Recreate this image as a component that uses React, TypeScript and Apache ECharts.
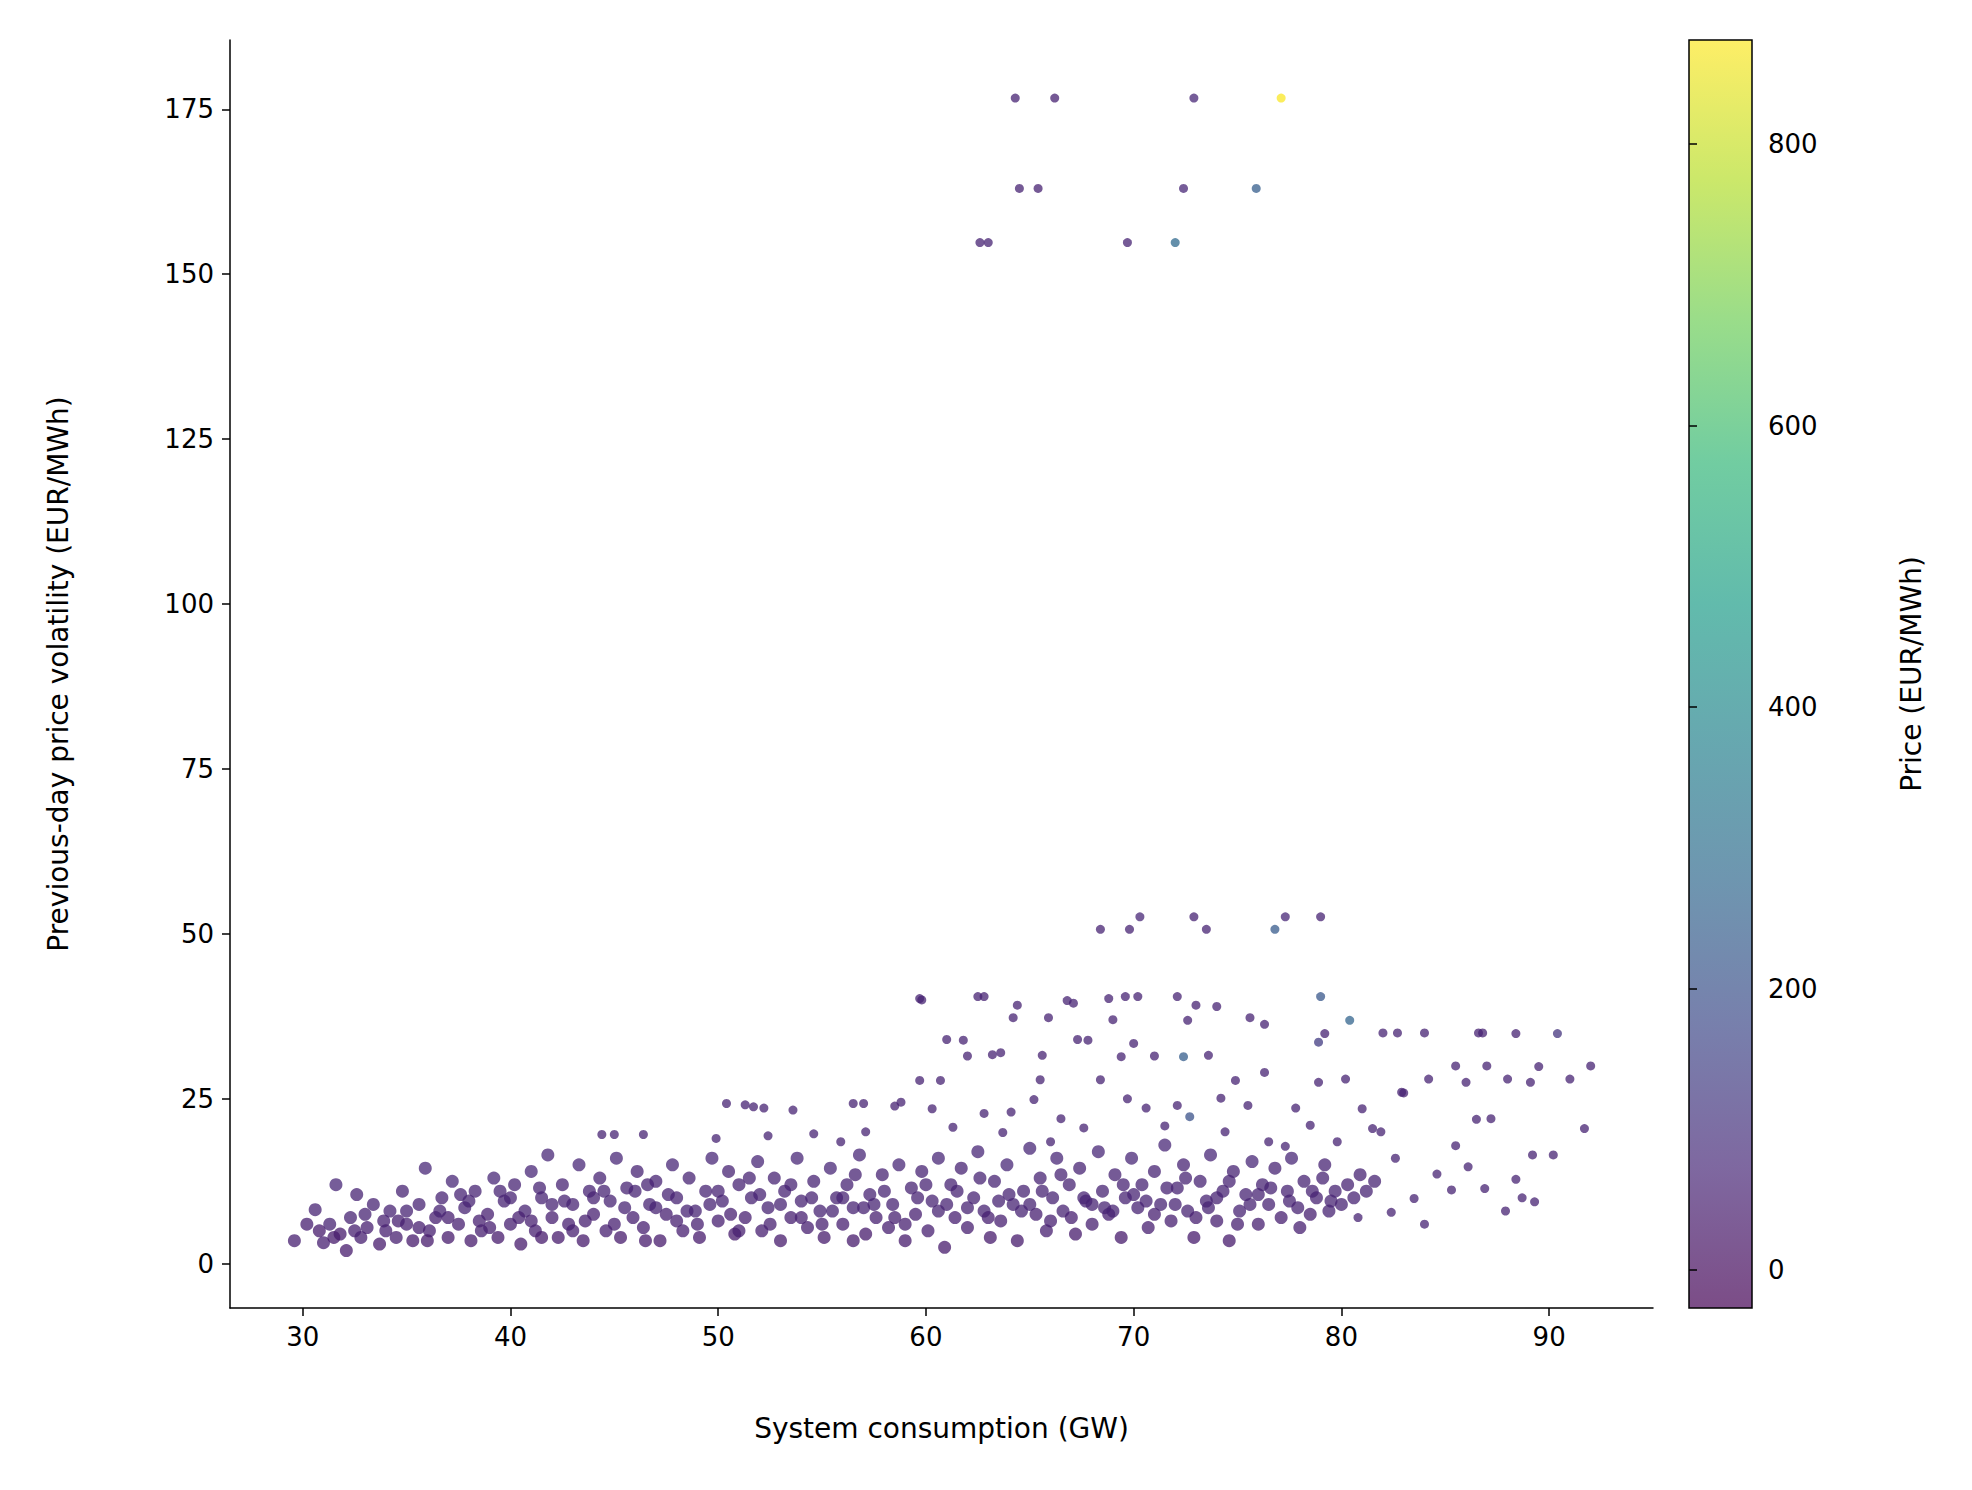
import { useEffect, useRef } from "react";
import * as echarts from "echarts";

// [consumption GW, volatility EUR/MWh, price EUR/MWh]
const spikes: number[][] = [
  [64.3, 176.7, 60], [66.2, 176.7, 55], [72.9, 176.7, 70], [77.1, 176.7, 870],
  [64.5, 163, 60], [65.4, 163, 55], [72.4, 163, 70], [75.9, 163, 240],
  [62.6, 154.8, 60], [63.0, 154.8, 60], [69.7, 154.8, 60], [72.0, 154.8, 280],
];

const highVol: number[][] = [
  [70.3, 52.6, 70], [72.9, 52.6, 60], [77.3, 52.6, 70], [79.0, 52.6, 60],
  [68.4, 50.7, 60], [69.8, 50.7, 60], [73.5, 50.7, 60], [76.8, 50.7, 230],
  [59.7, 40.2, 60], [59.8, 40.0, 60], [62.5, 40.5, 60], [62.8, 40.5, 60],
  [66.8, 39.9, 60], [67.1, 39.5, 60], [68.8, 40.2, 60], [69.6, 40.5, 60], [70.2, 40.5, 60],
  [72.1, 40.5, 60], [73.0, 39.2, 60], [74.0, 39.0, 60], [79.0, 40.5, 220], [80.4, 36.9, 260],
  [64.4, 39.2, 60], [64.2, 37.3, 60], [65.9, 37.3, 60], [69.0, 37.0, 60], [72.6, 36.9, 60],
  [75.6, 37.3, 60], [76.3, 36.3, 60], [79.2, 34.9, 60], [82.0, 35.0, 60], [82.7, 35.0, 60],
  [84.0, 35.0, 60], [86.6, 35.0, 60], [86.8, 35.0, 60], [88.4, 34.9, 60], [90.4, 34.9, 110],
  [61.0, 34.0, 60], [61.8, 33.9, 60], [63.2, 31.7, 60], [65.6, 31.6, 60], [67.3, 34.0, 60],
  [67.8, 33.9, 60], [70.0, 33.4, 60], [71.0, 31.5, 60], [72.4, 31.4, 240], [73.6, 31.6, 60],
  [62.0, 31.5, 60], [69.4, 31.4, 60], [78.9, 33.6, 130], [85.5, 30.0, 60], [87.0, 30.0, 60],
  [89.5, 29.9, 60], [92.0, 30.0, 60], [63.6, 32.0, 60], [76.3, 29.0, 60],
  [59.7, 27.8, 60], [60.7, 27.8, 60], [65.5, 27.9, 60], [68.4, 27.9, 60], [74.9, 27.8, 60],
  [78.9, 27.5, 60], [80.2, 28.0, 60], [82.9, 26.0, 60], [84.2, 28.0, 60], [86.0, 27.5, 60],
  [88.0, 28.0, 60], [89.1, 27.5, 60], [91.0, 28.0, 60], [72.1, 24.0, 60], [74.2, 25.1, 60],
  [50.4, 24.3, 60], [51.3, 24.1, 60], [51.7, 23.8, 60], [52.2, 23.6, 60], [53.6, 23.3, 60],
  [56.5, 24.3, 60], [57.0, 24.3, 60], [58.5, 23.9, 60], [58.8, 24.5, 60], [60.3, 23.5, 60],
  [62.8, 22.8, 60], [64.1, 23.0, 60], [65.2, 24.9, 60], [66.5, 22.0, 60], [69.7, 25.0, 60],
  [70.6, 23.6, 60], [72.7, 22.3, 200], [75.5, 24.0, 60], [77.8, 23.6, 60], [81.0, 23.5, 60],
  [81.5, 20.5, 60], [83.0, 25.9, 60], [86.5, 21.9, 60], [87.2, 22.0, 60], [89.2, 16.5, 60],
  [91.7, 20.5, 60], [90.2, 16.5, 60], [88.7, 10.0, 60], [89.3, 9.4, 60], [88.4, 12.8, 60],
  [85.5, 17.9, 60], [84.6, 13.6, 60], [83.5, 9.9, 60], [82.6, 16.0, 60], [81.9, 20.0, 60],
  [86.1, 14.7, 60], [87.9, 8.0, 60], [86.9, 11.4, 60], [85.3, 11.2, 60], [84.0, 6.0, 60],
  [82.4, 7.8, 60], [80.8, 7.0, 60], [79.8, 18.5, 60], [78.5, 21.0, 60], [77.3, 17.8, 60],
  [54.6, 19.7, 60], [55.9, 18.5, 60], [44.4, 19.6, 60], [45.0, 19.6, 60], [46.4, 19.6, 60],
  [49.9, 19.0, 60], [52.4, 19.4, 60], [57.1, 20.0, 60], [61.3, 20.7, 60], [63.7, 19.9, 60],
  [67.6, 20.6, 60], [71.5, 20.9, 60], [74.4, 20.0, 60], [76.5, 18.5, 60], [66.0, 18.5, 60],
];

const band: number[][] = [
  [29.6, 3.5, 50], [30.6, 8.2, 60], [30.8, 5, 40], [31.0, 3.2, 50], [31.3, 6, 60], [31.6, 12, 70], [31.8, 4.5, 40],
  [32.1, 2, 40], [32.3, 7, 60], [32.6, 10.5, 60], [32.8, 4, 50], [33.1, 5.5, 50], [33.4, 9, 60], [33.7, 3, 40], [33.9, 6.5, 50],
  [34.2, 8, 60], [34.5, 4, 50], [34.8, 11, 60], [35.0, 6, 50], [35.3, 3.5, 40], [35.6, 9, 60], [35.9, 14.5, 70], [36.1, 5, 50],
  [36.4, 7, 50], [36.7, 10, 60], [37.0, 4, 40], [37.2, 12.5, 70], [37.5, 6, 50], [37.8, 8.5, 60], [38.1, 3.5, 40], [38.3, 11, 60],
  [38.6, 5, 50], [38.9, 7.5, 50], [39.2, 13, 70], [39.4, 4, 40], [39.7, 9.5, 60], [40.0, 6, 50], [40.2, 12, 60], [40.5, 3, 40],
  [40.7, 8, 60], [41.0, 14, 70], [41.2, 5, 50], [41.5, 10, 60], [41.8, 16.5, 70], [42.0, 7, 50], [42.3, 4, 40], [42.5, 12, 60],
  [42.8, 6, 50], [43.0, 9, 60], [43.3, 15, 70], [43.5, 3.5, 40], [43.8, 11, 60], [44.0, 7.5, 50], [44.3, 13, 60], [44.6, 5, 50],
  [44.8, 9.5, 60], [45.1, 16, 70], [45.3, 4, 40], [45.6, 11.5, 60], [45.9, 7, 50], [46.1, 14, 60], [46.4, 5.5, 50], [46.7, 9, 60],
  [47.0, 12.5, 60], [47.2, 3.5, 40], [47.5, 7.5, 50], [47.8, 15, 70], [48.0, 10, 60], [48.3, 5, 50], [48.6, 13, 60], [48.9, 8, 60],
  [49.1, 4, 40], [49.4, 11, 60], [49.7, 16, 70], [50.0, 6.5, 50], [50.2, 9.5, 60], [50.5, 14, 60], [50.8, 4.5, 40], [51.0, 12, 60],
  [51.3, 7, 50], [51.6, 10, 60], [51.9, 15.5, 70], [52.1, 5, 50], [52.4, 8.5, 60], [52.7, 13, 60], [53.0, 3.5, 40], [53.2, 11, 60],
  [53.5, 7, 50], [53.8, 16, 70], [54.0, 9.5, 60], [54.3, 5.5, 50], [54.6, 12.5, 60], [54.9, 8, 60], [55.1, 4, 40], [55.4, 14.5, 70],
  [55.7, 10, 60], [56.0, 6, 50], [56.2, 12, 60], [56.5, 8.5, 60], [56.8, 16.5, 70], [57.1, 4.5, 40], [57.3, 10.5, 60], [57.6, 7, 50],
  [57.9, 13.5, 60], [58.2, 5.5, 50], [58.4, 9, 60], [58.7, 15, 70], [59.0, 3.5, 40], [59.3, 11.5, 60], [59.5, 7.5, 50], [59.8, 14, 60],
  [60.1, 5, 50], [60.3, 9.5, 60], [60.6, 16, 70], [60.9, 2.5, 40], [61.2, 12, 60], [61.4, 7, 50], [61.7, 14.5, 60], [62.0, 5.5, 50],
  [62.3, 10, 60], [62.5, 17, 70], [62.8, 8, 60], [63.1, 4, 40], [63.3, 12.5, 60], [63.6, 6.5, 50], [63.9, 15, 70], [64.2, 9, 60],
  [64.4, 3.5, 40], [64.7, 11, 60], [65.0, 17.5, 70], [65.3, 7.5, 50], [65.5, 13, 60], [65.8, 5, 50], [66.1, 10, 60], [66.3, 16, 70],
  [66.6, 8, 60], [66.9, 12, 60], [67.2, 4.5, 40], [67.4, 14.5, 60], [67.7, 9.5, 60], [68.0, 6, 50], [68.3, 17, 70], [68.5, 11, 60],
  [68.8, 7.5, 50], [69.1, 13.5, 60], [69.4, 4, 40], [69.6, 10, 60], [69.9, 16, 70], [70.2, 8.5, 60], [70.4, 12, 60], [70.7, 5.5, 50],
  [71.0, 14, 60], [71.3, 9, 60], [71.5, 18, 70], [71.8, 6.5, 50], [72.1, 11.5, 60], [72.4, 15, 60], [72.6, 8, 60], [72.9, 4, 40],
  [73.2, 12.5, 60], [73.5, 9.5, 60], [73.7, 16.5, 70], [74.0, 6.5, 50], [74.3, 11, 60], [74.6, 3.5, 40], [74.8, 14, 60], [75.1, 8, 60],
  [75.4, 10.5, 60], [75.7, 15.5, 70], [76.0, 6, 50], [76.2, 12, 60], [76.5, 9, 60], [76.8, 14.5, 60], [77.1, 7, 50], [77.4, 11, 60],
  [77.6, 16, 70], [77.9, 8.5, 60], [78.2, 12.5, 60], [78.5, 7.5, 50], [78.8, 10, 60], [79.1, 13, 60], [79.4, 8, 60], [79.7, 11, 60],
  [80.0, 9, 60], [80.3, 12, 60], [80.6, 10, 60], [80.9, 13.5, 60], [81.2, 11, 60], [81.6, 12.5, 60], [79.2, 15, 60], [78.0, 5.5, 50],
  [34.0, 5, 50], [36.0, 3.5, 40], [38.0, 9.5, 60], [40.0, 10, 60], [42.0, 9, 60], [44.0, 10, 60], [46.0, 11, 60], [48.0, 6.5, 50],
  [50.0, 11, 60], [52.0, 10.5, 60], [54.0, 7, 50], [56.0, 10, 60], [58.0, 11, 60], [60.0, 12, 60], [62.0, 8.5, 60], [64.0, 10.5, 60],
  [66.0, 6.5, 50], [68.0, 9, 60], [70.0, 10.5, 60], [72.0, 9, 60], [74.0, 10, 60], [76.0, 10.5, 60], [41.0, 6.5, 50], [43.0, 5, 50],
  [45.0, 6, 50], [47.0, 8.5, 60], [49.0, 6, 50], [51.0, 5, 50], [53.0, 9, 60], [55.0, 6, 50], [57.0, 8.5, 60], [59.0, 6, 50],
  [61.0, 9, 60], [63.0, 7, 50], [65.0, 9, 60], [67.0, 7, 50], [69.0, 8, 60], [71.0, 7.5, 50], [73.0, 7, 50], [75.0, 6, 50],
  [39.0, 5.5, 50], [37.0, 7, 50], [35.0, 8, 60], [33.0, 7.5, 60], [31.5, 4, 40], [41.5, 4, 40], [46.5, 3.5, 40], [56.5, 3.5, 40],
  [40.4, 7, 50], [41.4, 11.5, 60], [42.6, 9.5, 60], [43.6, 6.5, 50], [44.5, 11, 60], [45.5, 8.5, 60], [46.6, 12, 60], [47.6, 10.5, 60],
  [48.5, 8, 60], [49.6, 9, 60], [50.6, 7.5, 50], [51.5, 13, 60], [52.5, 6, 50], [53.5, 12, 60], [54.5, 10, 60], [55.5, 8, 60],
  [56.6, 13.5, 60], [57.5, 9, 60], [58.5, 7, 50], [59.6, 10, 60], [60.6, 8, 60], [61.5, 11, 60], [62.6, 13, 60], [63.5, 9.5, 60],
  [64.6, 8, 60], [65.6, 11, 60], [66.5, 13.5, 60], [67.6, 10, 60], [68.6, 8.5, 60], [69.5, 12, 60], [70.6, 9.5, 60], [71.6, 11.5, 60],
  [72.5, 13, 60], [73.6, 8.5, 60], [74.6, 12.5, 60], [75.6, 9, 60], [76.6, 11.5, 60], [77.5, 9.5, 60], [78.6, 11, 60], [79.5, 9.5, 60],
  [30.2, 6, 50], [32.5, 5, 50], [34.6, 6.5, 50], [36.6, 8, 60], [38.5, 6.5, 50], [39.5, 11, 60], [37.6, 10.5, 60], [35.6, 5.5, 50],
];

const xTicks = [30, 40, 50, 60, 70, 80, 90];
const yTicks = [0, 25, 50, 75, 100, 125, 150, 175];
const cbTicks = [0, 200, 400, 600, 800];
const viridis = ["#440154", "#482878", "#3e4989", "#31688e", "#26828e", "#1f9e89", "#35b779", "#6ece58", "#b5de2b", "#fde725"];

const FONT = "DejaVu Sans";
const priceMin = -27;
const priceMax = 874;

export default function App() {
  const ref = useRef<HTMLDivElement | null>(null);

  useEffect(() => {
    document.body.style.margin = "0";
    if (!ref.current) return;
    const chart = echarts.init(ref.current, null, { renderer: "svg" });
    const label = { fontFamily: FONT, fontSize: 26, color: "#000" };
    const tick = { show: true, length: 8, inside: false, lineStyle: { color: "#000", width: 1.5 } };

    chart.setOption({
      animation: false,
      backgroundColor: "#fff",
      grid: [
        { left: 230, top: 40, width: 1423, height: 1268 },
        { left: 1689, top: 40, width: 63, height: 1268, show: true, borderColor: "#000", borderWidth: 1.5, backgroundColor: "transparent" },
      ],
      xAxis: [
        {
          gridIndex: 0, type: "value", min: 26.5, max: 95,
          name: "System consumption (GW)", nameLocation: "middle", nameGap: 106,
          nameTextStyle: { ...label, fontSize: 28 },
          axisLine: { onZero: false, lineStyle: { color: "#000", width: 1.5 } },
          axisTick: { ...tick, customValues: xTicks },
          axisLabel: { ...label, margin: 16, customValues: xTicks },
          splitLine: { show: false },
        },
        { gridIndex: 1, type: "value", min: 0, max: 1, show: false },
      ],
      yAxis: [
        {
          gridIndex: 0, type: "value", min: -6.7, max: 185.5,
          name: "Previous-day price volatility (EUR/MWh)", nameLocation: "middle", nameGap: 158,
          nameTextStyle: { ...label, fontSize: 28 },
          axisLine: { show: true, onZero: false, lineStyle: { color: "#000", width: 1.5 } },
          axisTick: { ...tick, customValues: yTicks },
          axisLabel: { ...label, margin: 16, customValues: yTicks },
          splitLine: { show: false },
        },
        {
          gridIndex: 1, type: "value", min: priceMin, max: priceMax, position: "right",
          name: "Price (EUR/MWh)", nameLocation: "middle", nameGap: 145, nameRotate: 90,
          nameTextStyle: { ...label, fontSize: 28 },
          axisLine: { show: false },
          axisTick: { ...tick, customValues: cbTicks },
          axisLabel: { ...label, margin: 16, customValues: cbTicks },
          splitLine: { show: false },
        },
      ],
      visualMap: {
        show: false, type: "continuous", min: priceMin, max: priceMax,
        dimension: 2, seriesIndex: [0, 1, 2], inRange: { color: viridis },
      },
      graphic: [
        {
          type: "rect", left: 1689, top: 40, z: -1,
          shape: { width: 63, height: 1268 },
          style: {
            opacity: 0.7,
            fill: new echarts.graphic.LinearGradient(0, 1, 0, 0,
              viridis.map((c, i) => ({ offset: i / (viridis.length - 1), color: c }))),
          },
        },
      ],
      series: [
        { data: band, symbolSize: 13 },
        { data: highVol, symbolSize: 9 },
        { data: spikes, symbolSize: 9 },
      ].map((s) => ({
        type: "scatter", xAxisIndex: 0, yAxisIndex: 0, ...s, itemStyle: { opacity: 0.75 },
      })),
    });
    return () => chart.dispose();
  }, []);

  return <div ref={ref} style={{ width: 1972, height: 1490 }} />;
}
